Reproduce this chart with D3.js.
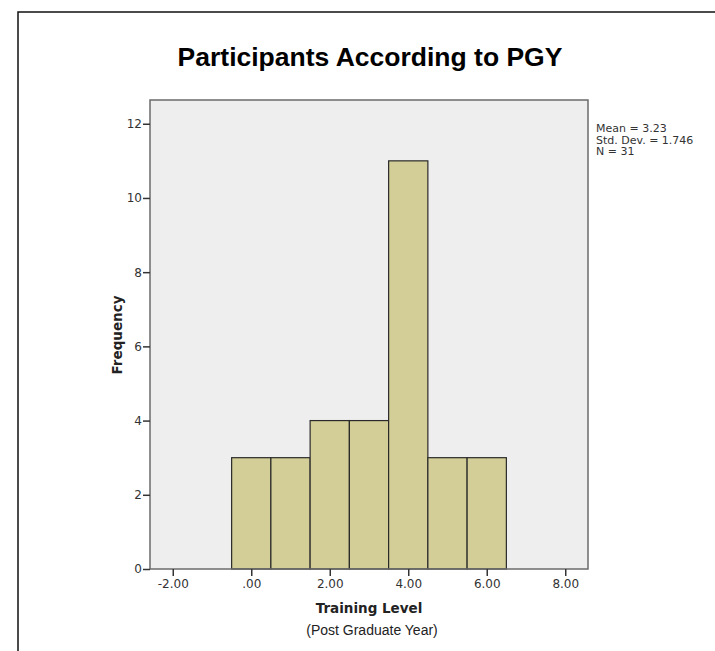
<!DOCTYPE html>
<html><head><meta charset="utf-8">
<script src="https://cdn.jsdelivr.net/npm/d3@7"></script>
<style>body{margin:0;background:#fff}svg{display:block}</style>
</head><body>
<script>
const binCenters = [0, 1, 2, 3, 4, 5, 6];
const frequencies = [3, 3, 4, 4, 11, 3, 3];
const xTicks = [-2, 0, 2, 4, 6, 8];
const yTicks = [0, 2, 4, 6, 8, 10, 12];
const statsLines = ["Mean = 3.23", "Std. Dev. = 1.746", "N = 31"];
const titleText = "Participants According to PGY";
const xLabel = "Training Level";
const xSubLabel = "(Post Graduate Year)";
const yLabel = "Frequency";

const W = 715, H = 651;
const svg = d3.select("body").append("svg").attr("width", W).attr("height", H);

// outer frame
svg.append("path").attr("d", `M18,${H} L18,12 L${W},12`).attr("fill", "none")
  .attr("stroke", "#111").attr("stroke-width", 1.5);

const L = 150, R = 588, T = 100, B = 569;
const x = d3.scaleLinear().domain([-2.58, 8.58]).range([L, R]);
const y = d3.scaleLinear().domain([0, 12.64]).range([B, T]);

svg.append("rect").attr("x", L).attr("y", T).attr("width", R - L).attr("height", B - T)
  .attr("fill", "#eeeeee");

svg.selectAll("rect.bar").data(binCenters).enter().append("rect").attr("class", "bar")
  .attr("x", d => x(d - 0.5)).attr("width", d => x(d + 0.5) - x(d - 0.5))
  .attr("y", (d, i) => y(frequencies[i])).attr("height", (d, i) => y(0) - y(frequencies[i]))
  .attr("fill", "#d3ce97").attr("stroke", "#2a2a2a").attr("stroke-width", 1.2);

svg.append("rect").attr("x", L).attr("y", T).attr("width", R - L).attr("height", B - T)
  .attr("fill", "none").attr("stroke", "#6b6b6b").attr("stroke-width", 1.5);

const fmt = d => d === 0 ? ".00" : d3.format(".2f")(d).replace("−", "-");

const xAxis = svg.append("g").attr("transform", `translate(0,${B})`)
  .call(d3.axisBottom(x).tickValues(xTicks).tickFormat(fmt).tickSize(7).tickSizeOuter(0));
xAxis.select(".domain").remove();
xAxis.selectAll("line").attr("stroke", "#333").attr("stroke-width", 1.5);
xAxis.selectAll("text").attr("font-family", "DejaVu Sans").attr("font-size", 12)
  .attr("fill", "#333").attr("dy", "0.71em").attr("y", 10);

const yAxis = svg.append("g").attr("transform", `translate(${L},0)`)
  .call(d3.axisLeft(y).tickValues(yTicks).tickFormat(d3.format("d")).tickSize(7).tickSizeOuter(0));
yAxis.select(".domain").remove();
yAxis.selectAll("line").attr("stroke", "#333").attr("stroke-width", 1.5);
yAxis.selectAll("text").attr("font-family", "DejaVu Sans").attr("font-size", 12)
  .attr("fill", "#333").attr("x", -8);

svg.append("text").attr("x", 370).attr("y", 66).attr("text-anchor", "middle")
  .attr("font-family", "Liberation Sans, Arial").attr("font-weight", "bold").attr("font-size", 26.5)
  .attr("fill", "#000").text(titleText);

svg.append("text").attr("x", 369).attr("y", 613).attr("text-anchor", "middle")
  .attr("font-family", "DejaVu Sans").attr("font-weight", "bold").attr("font-size", 13.5)
  .attr("fill", "#222").text(xLabel);

svg.append("text").attr("x", 372).attr("y", 635).attr("text-anchor", "middle")
  .attr("font-family", "Liberation Sans, Arial").attr("font-size", 14)
  .attr("fill", "#222").text(xSubLabel);

svg.append("text").attr("transform", `translate(122,335) rotate(-90)`).attr("text-anchor", "middle")
  .attr("font-family", "DejaVu Sans").attr("font-weight", "bold").attr("font-size", 13.5)
  .attr("fill", "#222").text(yLabel);

svg.append("g").selectAll("text").data(statsLines).enter().append("text")
  .attr("x", 596).attr("y", (d, i) => 132 + i * 11.7)
  .attr("font-family", "DejaVu Sans").attr("font-size", 11).attr("fill", "#333").text(d => d);
</script>
</body></html>
